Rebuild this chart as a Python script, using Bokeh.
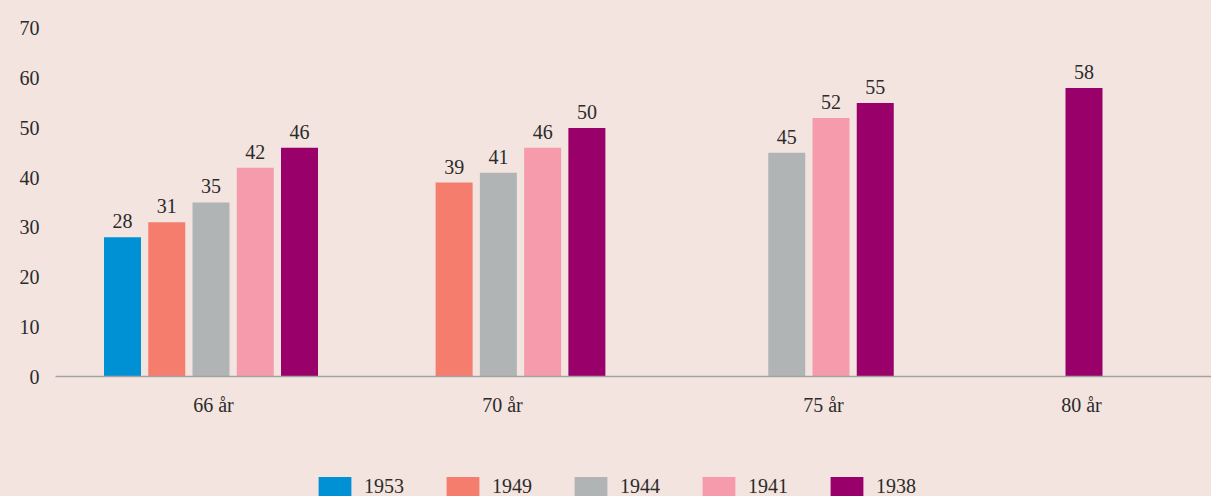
from bokeh.plotting import figure
from bokeh.layouts import column
from bokeh.models import Range1d, FixedTicker, Legend, LegendItem, ColumnDataSource, LabelSet
from bokeh.embed import file_html
from bokeh.resources import INLINE

# ---- data ----
ages = ["66 år", "70 år", "75 år", "80 år"]
years = ["1953", "1949", "1944", "1941", "1938"]
v1953 = [28, None, None, None]
v1949 = [31, 39, None, None]
v1944 = [35, 41, 45, None]
v1941 = [42, 46, 52, None]
v1938 = [46, 50, 55, 58]
y_ticks = [0, 10, 20, 30, 40, 50, 60, 70]

# ---- style / layout ----
colors = ["#0090D4", "#F47D6E", "#B1B4B5", "#F59BAB", "#990069"]
BG = "#F3E4DF"
TXT = "#2B2B2B"
FONT = "Liberation Serif"
FS = "20px"
group_x = [210.5, 520, 830.5, 1083.5]   # centre of each bar cluster
label_x = [213, 502, 823, 1081]         # category label positions
pitch = 44.25
bar_w = 37

series = [v1953, v1949, v1944, v1941, v1938]


def style_bg(fig):
    fig.background_fill_color = BG
    fig.border_fill_color = BG
    fig.outline_line_color = BG
    fig.outline_line_width = 2
    fig.xgrid.visible = False
    fig.ygrid.visible = False


p = figure(width=1211, height=460, x_range=Range1d(55, 1211), y_range=Range1d(0, 72),
           output_backend="svg", toolbar_location=None,
           min_border_left=55, min_border_right=0, min_border_top=18, min_border_bottom=84)
style_bg(p)

lx, ly, lt = [], [], []
for s, vals in enumerate(series):
    xs, tops = [], []
    for g in range(len(ages)):
        if vals[g] is None:
            continue
        present = [k for k in range(len(series)) if series[k][g] is not None]
        n = len(present)
        k = present.index(s)
        x = group_x[g] + (k - (n - 1) / 2) * pitch
        xs.append(x)
        tops.append(vals[g])
        lx.append(x); ly.append(vals[g]); lt.append(str(vals[g]))
    src = ColumnDataSource(dict(x=xs, top=tops))
    p.vbar(x="x", top="top", bottom=0, width=bar_w, source=src,
           fill_color=colors[s], line_color=None)

lab_src = ColumnDataSource(dict(x=lx, y=ly, t=lt))
labels = LabelSet(x="x", y="y", text="t", source=lab_src, text_align="center",
                  text_baseline="alphabetic", y_offset=9, text_font=FONT,
                  text_font_size=FS, text_color=TXT)
p.add_layout(labels)

# y axis
p.yaxis.ticker = FixedTicker(ticks=y_ticks)
p.yaxis.axis_line_color = None
p.yaxis.major_tick_line_color = None
p.yaxis.minor_tick_line_color = None
p.yaxis.major_tick_out = 0
p.yaxis.major_label_standoff = 16
p.yaxis.major_label_text_font = FONT
p.yaxis.major_label_text_font_size = FS
p.yaxis.major_label_text_color = TXT

# x axis
p.xaxis.ticker = FixedTicker(ticks=label_x)
p.xaxis.major_label_overrides = {label_x[i]: ages[i] for i in range(len(ages))}
p.xaxis.axis_line_color = "#A3A3A3"
p.xaxis.axis_line_width = 1.5
p.xaxis.major_tick_line_color = None
p.xaxis.minor_tick_line_color = None
p.xaxis.major_tick_out = 0
p.xaxis.major_label_standoff = 17
p.xaxis.major_label_text_font = FONT
p.xaxis.major_label_text_font_size = FS
p.xaxis.major_label_text_color = TXT

# legend strip (separate small figure beneath the chart)
lg = figure(width=1211, height=36, x_range=Range1d(0, 1), y_range=Range1d(0, 1),
            output_backend="svg", toolbar_location=None, x_axis_type=None, y_axis_type=None,
            min_border_left=0, min_border_right=0, min_border_top=0, min_border_bottom=0)
style_bg(lg)
items = []
for i, yr in enumerate(years):
    # zero-height proxy bar that only carries the legend swatch colour
    r = lg.vbar(x=[0], top=[0], bottom=0, width=0.01, fill_color=colors[i], line_color=None)
    items.append(LegendItem(label=yr, renderers=[r]))
legend = Legend(items=items, orientation="horizontal", location=(259, -3),
                glyph_width=41, glyph_height=25, label_standoff=9, spacing=38,
                padding=0, margin=0, background_fill_alpha=0, border_line_color=None,
                label_text_font=FONT, label_text_font_size=FS, label_text_color=TXT,
                label_height=20)
lg.add_layout(legend, "center")

layout = column(p, lg, spacing=0, styles={"background-color": BG})
open("out.html", "w").write(file_html(layout, INLINE, title="Chart"))
